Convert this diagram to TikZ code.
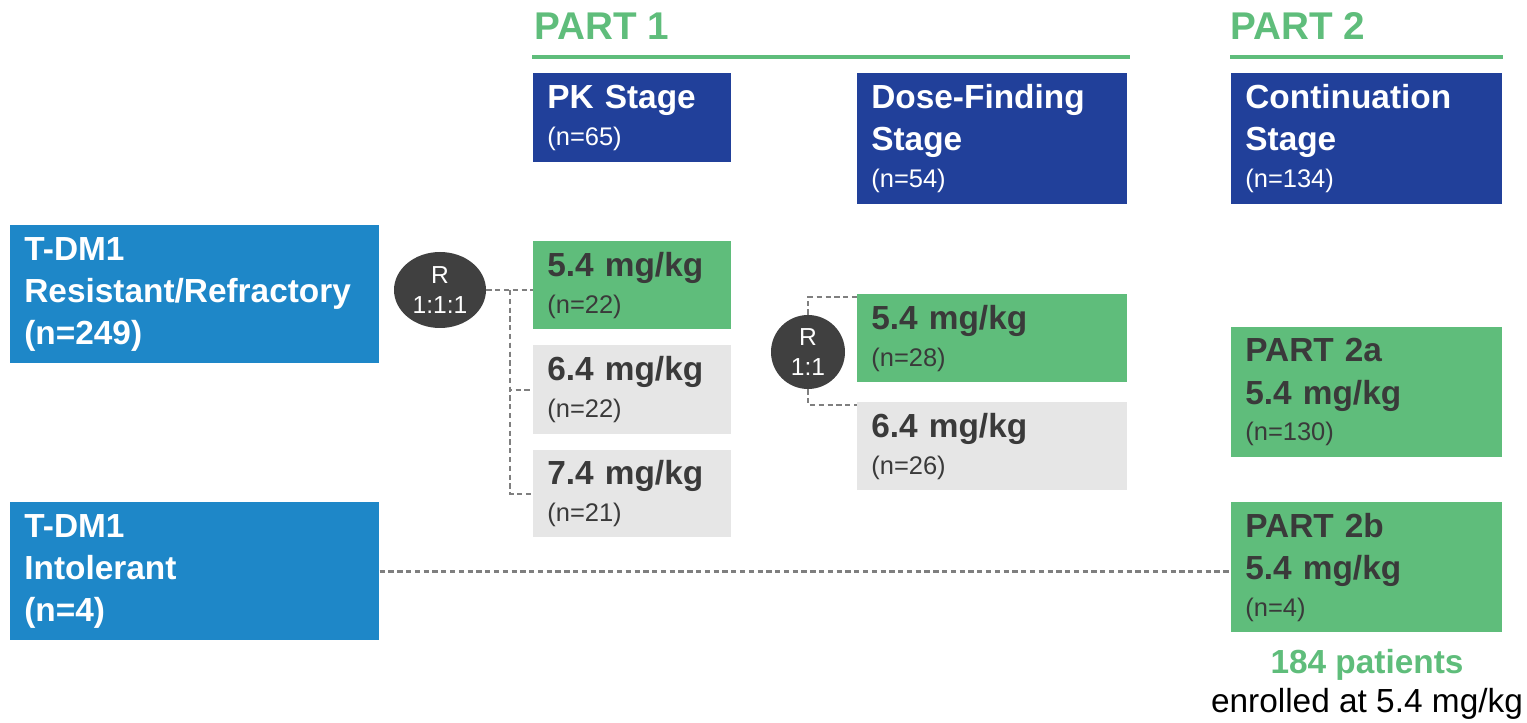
\documentclass[tikz,border=0pt]{standalone}
\usepackage{fontspec}
\setmainfont{Liberation Sans}
\usepackage{xcolor}
\usetikzlibrary{shapes.geometric,calc}
\definecolor{navy}{HTML}{21409A}
\definecolor{skyblue}{HTML}{1E87C8}
\definecolor{leaf}{HTML}{5FBD7B}
\definecolor{pale}{HTML}{E6E6E6}
\definecolor{ink}{HTML}{3A3A3A}
\definecolor{dashgray}{HTML}{7F7F7F}
\definecolor{disc}{HTML}{404040}
\newcommand{\nsmall}[1]{{\mdseries\fontsize{14.5}{18}\selectfont #1}}

\begin{document}
\begin{tikzpicture}[x=0.2mm, y=-0.2mm,
    box/.style={rectangle, anchor=north west, inner xsep=2.8mm, inner ysep=0pt, align=left, font=\bfseries\fontsize{19}{24}\selectfont},
    stage/.style={box, fill=navy, text=white},
    pop/.style={box, fill=skyblue, text=white},
    arm/.style={box, fill=leaf, text=ink},
    alt/.style={box, fill=pale, text=ink},
    rand/.style={ellipse, fill=disc, text=white, inner sep=0pt, align=center, font=\fontsize{14}{17}\selectfont},
    link/.style={dashgray, line width=1.4pt, dash pattern=on 3pt off 2pt},
    title/.style={text=leaf, font=\bfseries\fontsize{22}{26}\selectfont, anchor=base west, inner sep=0pt}]
        \useasboundingbox (0,0) rectangle (1527,723);

        \node[title] (part1) at (534,40) {PART 1};
        \node[title] (part2) at (1230,40) {PART 2};
        \draw[leaf, line width=2.8pt] (532,57) -- (1130,57);
        \draw[leaf, line width=2.8pt] (1230,57) -- (1503,57);

        \node[stage, text width=34mm, minimum height=17.8mm] (pk) at (533,73) {PK Stage\\[-3pt]\nsmall{(n=65)}};
        \node[stage, text width=48.4mm, minimum height=26.2mm] (dose) at (857,73) {Dose-Finding\\Stage\\[-3pt]\nsmall{(n=54)}};
        \node[stage, text width=48.6mm, minimum height=26.2mm] (cont) at (1231,73) {Continuation\\Stage\\[-3pt]\nsmall{(n=134)}};

        \node[pop, text width=68.2mm, minimum height=27.6mm] (resist) at (10,225) {T-DM1\\Resistant/Refractory\\(n=249)};
        \node[pop, text width=68.2mm, minimum height=27.6mm] (intol) at (10,502) {T-DM1\\Intolerant\\(n=4)};

        \node[rand, minimum width=18.4mm, minimum height=15.2mm] (rr1) at (440,290) {R\\1:1:1};
        \node[arm, text width=34mm, minimum height=17.6mm] (p54) at (533,241) {5.4 mg/kg\\[-3pt]\nsmall{(n=22)}};
        \node[alt, text width=34mm, minimum height=17.8mm] (p64) at (533,345) {6.4 mg/kg\\[-3pt]\nsmall{(n=22)}};
        \node[alt, text width=34mm, minimum height=17.4mm] (p74) at (533,450) {7.4 mg/kg\\[-3pt]\nsmall{(n=21)}};

        \node[rand, circle, minimum size=14.8mm] (rr2) at (808,352) {R\\1:1};
        \node[arm, text width=48.4mm, minimum height=17.6mm] (d54) at (857,294) {5.4 mg/kg\\[-3pt]\nsmall{(n=28)}};
        \node[alt, text width=48.4mm, minimum height=17.6mm] (d64) at (857,402) {6.4 mg/kg\\[-3pt]\nsmall{(n=26)}};

        \node[arm, text width=48.6mm, minimum height=26mm] (p2a) at (1231,327) {PART 2a\\5.4 mg/kg\\[-3pt]\nsmall{(n=130)}};
        \node[arm, text width=48.6mm, minimum height=26mm] (p2b) at (1231,502) {PART 2b\\5.4 mg/kg\\[-3pt]\nsmall{(n=4)}};

        \node[anchor=base, inner sep=0pt, text=leaf, font=\bfseries\fontsize{19}{24}\selectfont] (total) at (1367,673) {184 patients};
        \node[anchor=base, inner sep=0pt, font=\fontsize{19}{24}\selectfont] (dosing) at (1367,712) {enrolled at 5.4 mg/kg};

        \coordinate (split) at (510,290);
        \draw[link] (rr1.east) -- (p54.west |- rr1.east);
        \draw[link] (split) |- (p64.west);
        \draw[link] (split) |- (p74.west);
        \draw[link] (rr2.north) |- ([yshift=-0.6mm]d54.north west);
        \draw[link] (rr2.south) |- ([yshift=-0.6mm]d64.north west);
        \draw[link] (intol.east) -- (intol.east -| p2b.west);
    \end{tikzpicture}
\end{document}
